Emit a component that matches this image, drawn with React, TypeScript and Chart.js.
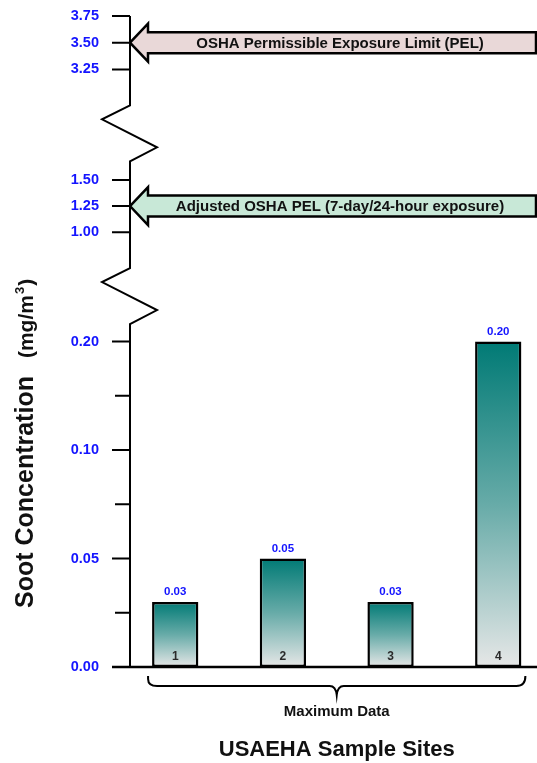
import React, { useEffect, useRef } from 'react';
import { Chart, registerables, LinearScale } from 'chart.js';

// ---- data ----
const SITES = [1, 2, 3, 4];
const SITE_LABELS = ['1', '2', '3', '4'];
const MAX_SOOT = [0.03, 0.05, 0.03, 0.2];
const VALUE_LABELS = ['0.03', '0.05', '0.03', '0.20'];

const Y_TICKS = [0, 0.05, 0.1, 0.2, 1.0, 1.25, 1.5, 3.25, 3.5, 3.75];
const Y_MINOR_TICKS = [0.025, 0.075, 0.15];
// value ranges omitted from the axis (drawn as zigzag breaks)
const Y_BREAKS = [
  [1.5, 3.25],
  [0.2, 1.0],
];
// piecewise mapping of the broken axis: [value, fraction of axis height]
const Y_KNOTS = [
  [0, 0],
  [0.05, 1 / 6],
  [0.1, 1 / 3],
  [0.2, 0.5],
  [1.0, 0.668],
  [1.5, 0.748],
  [3.25, 0.918],
  [3.75, 1],
];

const OSHA_PEL = 3.5;
const ADJUSTED_PEL = 1.25;
const OSHA_LABEL = 'OSHA Permissible Exposure Limit (PEL)';
const ADJUSTED_LABEL = 'Adjusted OSHA PEL (7-day/24-hour exposure)';
const GROUP_LABEL = 'Maximum Data';
const X_TITLE = 'USAEHA Sample Sites';
const Y_TITLE = 'Soot Concentration';
const Y_UNIT = '(mg/m';
const Y_UNIT_SUP = '3';

const FONT = '"Liberation Sans", Arial, Helvetica, sans-serif';
const BLUE = '#1414ff';
const INK = '#111111';

function valueToDecimal(v: number): number {
  for (let i = 1; i < Y_KNOTS.length; i++) {
    const [v1, d1] = Y_KNOTS[i];
    if (v <= v1 || i === Y_KNOTS.length - 1) {
      const [v0, d0] = Y_KNOTS[i - 1];
      return d0 + ((v - v0) / (v1 - v0)) * (d1 - d0);
    }
  }
  return 0;
}

function decimalToValue(d: number): number {
  for (let i = 1; i < Y_KNOTS.length; i++) {
    const [v1, d1] = Y_KNOTS[i];
    if (d <= d1 || i === Y_KNOTS.length - 1) {
      const [v0, d0] = Y_KNOTS[i - 1];
      return v0 + ((d - d0) / (d1 - d0)) * (v1 - v0);
    }
  }
  return 0;
}

// Linear scale with a piecewise (broken) value-to-pixel mapping
class BrokenScale extends LinearScale {
  static id = 'broken';
  static defaults = LinearScale.defaults;
  getPixelForValue(value: any) {
    if (value === null || value === undefined || isNaN(value)) return NaN;
    return this.getPixelForDecimal(valueToDecimal(+value));
  }
  getValueForPixel(pixel: number) {
    return decimalToValue(this.getDecimalForPixel(pixel));
  }
}

Chart.register(...registerables, BrokenScale);

function drawArrow(ctx: CanvasRenderingContext2D, tipX: number, yc: number, right: number, fill: string, text: string) {
  const headLen = 18;
  const headHalf = 19;
  const shaftHalf = 10.5;
  const hx = tipX + headLen;
  ctx.save();
  ctx.beginPath();
  ctx.moveTo(tipX, yc);
  ctx.lineTo(hx, yc - headHalf);
  ctx.lineTo(hx, yc - shaftHalf);
  ctx.lineTo(right, yc - shaftHalf);
  ctx.lineTo(right, yc + shaftHalf);
  ctx.lineTo(hx, yc + shaftHalf);
  ctx.lineTo(hx, yc + headHalf);
  ctx.closePath();
  ctx.fillStyle = fill;
  ctx.fill();
  ctx.lineWidth = 2.5;
  ctx.lineJoin = 'miter';
  ctx.strokeStyle = '#000';
  ctx.stroke();
  ctx.fillStyle = INK;
  ctx.font = `bold 15px ${FONT}`;
  ctx.textAlign = 'center';
  ctx.textBaseline = 'middle';
  ctx.fillText(text, (hx + right) / 2 - 2, yc + 1);
  ctx.restore();
}

const decorations = {
  id: 'decorations',
  afterDraw(chart: any) {
    const { ctx, chartArea } = chart;
    const y = chart.scales.y;
    const ax = chartArea.left;
    const y0 = y.getPixelForValue(0);

    ctx.save();
    ctx.strokeStyle = '#000';
    ctx.lineWidth = 2;
    ctx.lineCap = 'butt';
    ctx.lineJoin = 'miter';

    // y axis line with zigzag breaks
    ctx.beginPath();
    ctx.moveTo(ax, y.getPixelForValue(3.75));
    Y_BREAKS.forEach(([, upper]) => {
      const pu = y.getPixelForValue(upper);
      ctx.lineTo(ax, pu + 36);
      ctx.lineTo(ax - 28, pu + 50);
      ctx.lineTo(ax + 27, pu + 78);
      ctx.lineTo(ax, pu + 92);
    });
    ctx.lineTo(ax, y0);
    ctx.stroke();

    // tick marks
    ctx.beginPath();
    Y_TICKS.forEach((v) => {
      const py = y.getPixelForValue(v);
      ctx.moveTo(ax - 18, py);
      ctx.lineTo(ax, py);
    });
    Y_MINOR_TICKS.forEach((v) => {
      const py = y.getPixelForValue(v);
      ctx.moveTo(ax - 15, py);
      ctx.lineTo(ax, py);
    });
    ctx.stroke();

    // baseline
    ctx.lineWidth = 2.5;
    ctx.beginPath();
    ctx.moveTo(ax - 18, y0);
    ctx.lineTo(chartArea.right, y0);
    ctx.stroke();

    // PEL arrows
    drawArrow(ctx, ax, y.getPixelForValue(OSHA_PEL), chartArea.right - 1, '#e9d8d8', OSHA_LABEL);
    drawArrow(ctx, ax, y.getPixelForValue(ADJUSTED_PEL), chartArea.right - 1, '#c8e8d7', ADJUSTED_LABEL);

    // bar labels
    const bars = chart.getDatasetMeta(0).data;
    ctx.textAlign = 'center';
    ctx.textBaseline = 'middle';
    bars.forEach((bar: any, i: number) => {
      ctx.fillStyle = BLUE;
      ctx.font = `bold 11.5px ${FONT}`;
      ctx.fillText(VALUE_LABELS[i], bar.x, bar.y - 10);
      ctx.fillStyle = '#2a2a2a';
      ctx.font = `bold 12px ${FONT}`;
      ctx.fillText(SITE_LABELS[i], bar.x, bar.base - 10);
    });

    // brace under the bars
    const first = bars[0];
    const last = bars[bars.length - 1];
    const L = first.x - first.width / 2 - 4;
    const R = last.x + last.width / 2 + 4;
    const mid = (L + R) / 2;
    const bt = y0 + 9;
    const bh = y0 + 19;
    const bn = y0 + 28;
    ctx.lineWidth = 2;
    ctx.beginPath();
    ctx.moveTo(L, bt);
    ctx.lineTo(L, bt + 3);
    ctx.quadraticCurveTo(L, bh, L + 9, bh);
    ctx.lineTo(mid - 7, bh);
    ctx.quadraticCurveTo(mid - 1, bh, mid, bn);
    ctx.quadraticCurveTo(mid + 1, bh, mid + 7, bh);
    ctx.lineTo(R - 9, bh);
    ctx.quadraticCurveTo(R, bh, R, bt);
    ctx.stroke();

    ctx.fillStyle = INK;
    ctx.font = `bold 15px ${FONT}`;
    ctx.fillText(GROUP_LABEL, mid, y0 + 45);
    ctx.font = `bold 22px ${FONT}`;
    ctx.fillText(X_TITLE, mid, y0 + 83);

    // rotated y title with superscript unit
    ctx.save();
    ctx.translate(33, 608);
    ctx.rotate(-Math.PI / 2);
    ctx.textAlign = 'left';
    ctx.textBaseline = 'alphabetic';
    ctx.font = `bold 25px ${FONT}`;
    ctx.fillText(Y_TITLE, 0, 0);
    let x = ctx.measureText(Y_TITLE).width + 18;
    ctx.font = `bold 21px ${FONT}`;
    ctx.fillText(Y_UNIT, x, 0);
    x += ctx.measureText(Y_UNIT).width + 1;
    ctx.font = `bold 13px ${FONT}`;
    ctx.fillText(Y_UNIT_SUP, x, -9);
    x += ctx.measureText(Y_UNIT_SUP).width + 1;
    ctx.font = `bold 21px ${FONT}`;
    ctx.fillText(')', x, 0);
    ctx.restore();

    ctx.restore();
  },
};

function barGradient(c: any) {
  const chart = c.chart;
  if (!chart.chartArea || !c.parsed) return '#3a9a96';
  const y = chart.scales.y;
  const top = y.getPixelForValue(c.parsed.y);
  const base = y.getPixelForValue(0);
  const g = chart.ctx.createLinearGradient(0, top, 0, base);
  g.addColorStop(0, '#007a75');
  g.addColorStop(0.5, '#67aba8');
  g.addColorStop(1, '#e6e7e7');
  return g;
}

export default function App() {
  const canvasRef = useRef<HTMLCanvasElement | null>(null);

  useEffect(() => {
    if (!canvasRef.current) return;
    const chart = new Chart(canvasRef.current, {
      type: 'bar',
      data: {
        datasets: [
          {
            data: SITES.map((s, i) => ({ x: s, y: MAX_SOOT[i] })),
            backgroundColor: barGradient,
            borderColor: '#000',
            borderWidth: 2.5,
            borderSkipped: false,
            barPercentage: 0.43,
            categoryPercentage: 1,
          },
        ],
      },
      options: {
        responsive: false,
        animation: false,
        layout: { padding: { top: 16, right: 0, bottom: 96, left: 0 } },
        plugins: {
          legend: { display: false },
          tooltip: { enabled: false },
        },
        scales: {
          x: {
            type: 'linear',
            min: 0.58,
            max: 4.36,
            offset: false,
            display: false,
            afterBuildTicks: (s: any) => {
              s.ticks = SITES.map((v) => ({ value: v }));
            },
          },
          y: {
            type: 'broken',
            min: 0,
            max: 3.75,
            position: 'left',
            afterBuildTicks: (s: any) => {
              s.ticks = [...Y_TICKS, ...Y_MINOR_TICKS].sort((a, b) => a - b).map((v) => ({ value: v }));
            },
            afterFit: (s: any) => {
              s.width = 130;
            },
            grid: { display: false, drawTicks: true, tickLength: 31 },
            border: { display: false },
            ticks: {
              autoSkip: false,
              padding: 0,
              color: BLUE,
              font: { family: FONT, size: 14.5, weight: 'bold' },
              callback: (v: any) => (Y_TICKS.includes(v) ? Number(v).toFixed(2) : ''),
            },
          },
        } as any,
      },
      plugins: [decorations],
    } as any);
    return () => chart.destroy();
  }, []);

  return (
    <div style={{ position: 'absolute', left: 0, top: 0, width: 537, height: 763, background: '#fff' }}>
      <canvas ref={canvasRef} width={537} height={763} style={{ display: 'block' }} />
    </div>
  );
}
